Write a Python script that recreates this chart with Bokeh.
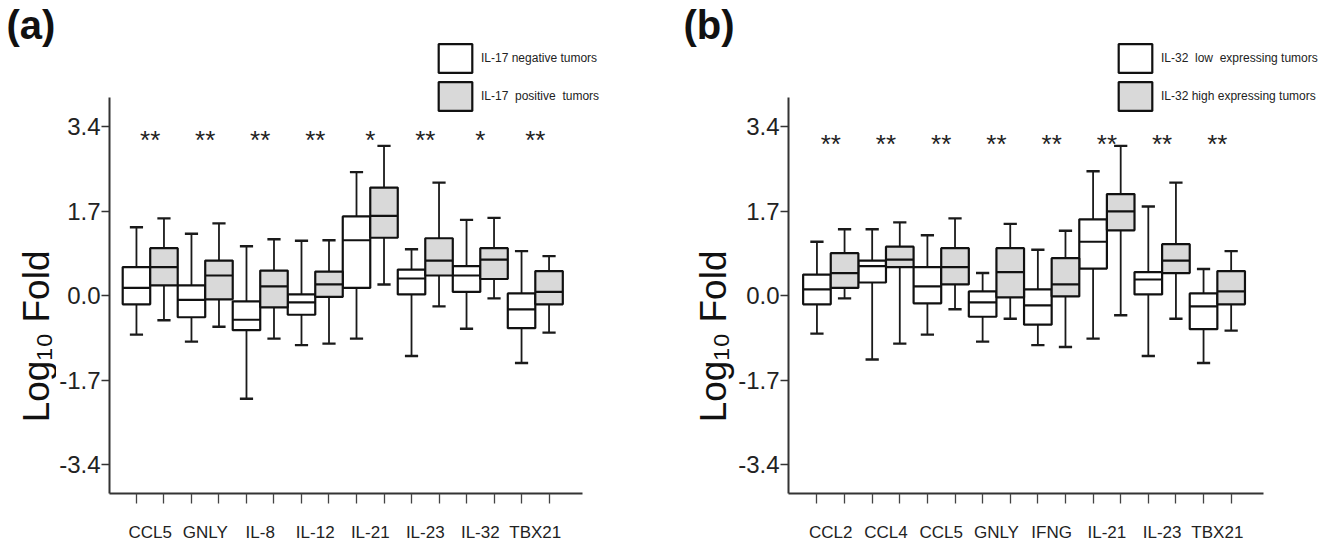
from bokeh.plotting import figure
from bokeh.layouts import row
from bokeh.models import (ColumnDataSource, FixedTicker, Legend, LegendItem, Label,
                          Range1d, NumeralTickFormatter)
from bokeh.transform import dodge
from bokeh.core.properties import value
from bokeh.embed import file_html
from bokeh.resources import INLINE
import math

# ---------------- Panel (a): IL-17 negative vs positive tumors ----------------
genes_a = ["CCL5", "GNLY", "IL-8", "IL-12", "IL-21", "IL-23", "IL-32", "TBX21"]
a_neg_low = [-0.78, -0.92, -2.07, -0.99, -0.86, -1.21, -0.66, -1.35]
a_neg_q1 = [-0.17, -0.43, -0.69, -0.38, 0.16, 0.03, 0.08, -0.65]
a_neg_med = [0.16, -0.08, -0.48, -0.13, 1.12, 0.35, 0.41, -0.27]
a_neg_q3 = [0.58, 0.21, -0.11, 0.03, 1.60, 0.53, 0.60, 0.05]
a_neg_high = [1.38, 1.25, 1.00, 1.11, 2.49, 0.94, 1.53, 0.90]

a_pos_low = [-0.49, -0.62, -0.86, -0.96, 0.23, -0.21, -0.05, -0.74]
a_pos_q1 = [0.21, -0.07, -0.23, -0.02, 1.17, 0.41, 0.34, -0.17]
a_pos_med = [0.58, 0.41, 0.19, 0.23, 1.61, 0.71, 0.73, 0.08]
a_pos_q3 = [0.96, 0.71, 0.51, 0.49, 2.18, 1.16, 0.96, 0.50]
a_pos_high = [1.56, 1.46, 1.14, 1.12, 3.02, 2.28, 1.57, 0.80]

sig_a = ["**", "**", "**", "**", "*", "**", "*", "**"]
legend_a = ["IL-17 negative tumors", "IL-17  positive  tumors"]

# ---------------- Panel (b): IL-32 low vs high expressing tumors ----------------
genes_b = ["CCL2", "CCL4", "CCL5", "GNLY", "IFNG", "IL-21", "IL-23", "TBX21"]
b_low_low = [-0.76, -1.28, -0.78, -0.92, -0.99, -0.86, -1.21, -1.35]
b_low_q1 = [-0.17, 0.27, -0.15, -0.42, -0.58, 0.55, 0.03, -0.67]
b_low_med = [0.13, 0.60, 0.19, -0.13, -0.19, 1.09, 0.33, -0.21]
b_low_q3 = [0.43, 0.71, 0.58, 0.09, 0.13, 1.54, 0.48, 0.05]
b_low_high = [1.09, 1.34, 1.22, 0.46, 0.93, 2.51, 1.80, 0.54]

b_high_low = [-0.05, -0.96, -0.27, -0.46, -1.03, -0.39, -0.46, -0.70]
b_high_q1 = [0.16, 0.58, 0.23, -0.03, -0.01, 1.32, 0.46, -0.17]
b_high_med = [0.46, 0.73, 0.58, 0.48, 0.23, 1.70, 0.71, 0.09]
b_high_q3 = [0.86, 0.99, 0.96, 0.96, 0.76, 2.05, 1.04, 0.50]
b_high_high = [1.34, 1.48, 1.56, 1.45, 1.31, 3.02, 2.28, 0.90]

sig_b = ["**"] * 8
legend_b = ["IL-32  low  expressing tumors", "IL-32 high expressing tumors"]

y_ticks = [-3.4, -1.7, 0.0, 1.7, 3.4]
y_label = "Log\u2081\u2080 Fold"

SANS = "Liberation Sans"
GRAY = "#d9d9d9"
Y_LO, Y_HI, AXIS_TOP = -3.977, 5.945, 4.0
PX_PER_UNIT = 50.29


def make_strip(width, title, title_x, label_x):
    s = figure(width=width, height=544, output_backend="svg", toolbar_location=None,
               x_range=Range1d(0, width), y_range=Range1d(Y_LO, Y_HI), title=None,
               min_border_left=0, min_border_right=0, min_border_top=0,
               min_border_bottom=45, x_axis_type=None, y_axis_type=None)
    s.outline_line_color = None
    s.add_layout(Label(x=title_x, y=Y_HI - 3 / PX_PER_UNIT, text=title,
                       text_font=SANS, text_font_size="40px", text_font_style="bold",
                       text_baseline="top", text_align="left", text_color="#111111"))
    s.add_layout(Label(x=label_x, y=3.4 - 212 / PX_PER_UNIT, text=y_label,
                       angle=math.pi / 2, text_font=SANS, text_font_size="37px",
                       text_align="center", text_baseline="middle", text_color="#111111"))
    return s


def make_panel(width, genes, g1, g2, sig, legend_labels, xr, x_end, star_y, leg_x):
    n = len(genes)
    p = figure(width=width, height=544, output_backend="svg", toolbar_location=None,
               x_range=Range1d(xr[0], x_end), y_range=Range1d(Y_LO, Y_HI), title=None,
               min_border_left=52, min_border_right=0,
               min_border_top=0, min_border_bottom=45)
    p.outline_line_color = None
    p.grid.visible = False

    box_renderers = []
    for k, (stats, fill) in enumerate([(g1, "white"), (g2, GRAY)]):
        lo, q1, med, q3, hi = stats
        xs = [2 * i + k for i in range(n)]
        src = ColumnDataSource(dict(x=xs, lo=lo, q1=q1, med=med, q3=q3, hi=hi))
        p.segment(x0="x", y0="q3", x1="x", y1="hi", source=src,
                  line_color="#1a1a1a", line_width=1.8)
        p.segment(x0="x", y0="lo", x1="x", y1="q1", source=src,
                  line_color="#1a1a1a", line_width=1.8)
        p.segment(x0=dodge("x", -0.24), y0="hi", x1=dodge("x", 0.24), y1="hi",
                  source=src, line_color="#1a1a1a", line_width=2.4)
        p.segment(x0=dodge("x", -0.24), y0="lo", x1=dodge("x", 0.24), y1="lo",
                  source=src, line_color="#1a1a1a", line_width=2.4)
        r = p.vbar(x="x", width=1.0, bottom="q1", top="q3", source=src,
                   fill_color=fill, line_color="#111111", line_width=2.2)
        box_renderers.append(r)
        p.segment(x0=dodge("x", -0.5), y0="med", x1=dodge("x", 0.5), y1="med",
                  source=src, line_color="#111111", line_width=2.2)

    star_src = ColumnDataSource(dict(x=[2 * i + 0.5 for i in range(n)],
                                     y=[star_y] * n, t=sig))
    p.text(x="x", y="y", text="t", source=star_src, text_align="center",
           text_baseline="middle", text_font=value(SANS), text_font_size="26px",
           text_color="#222222")

    # x axis
    p.xaxis.ticker = FixedTicker(ticks=[2 * i + 0.5 for i in range(n)],
                                 minor_ticks=list(range(2 * n)))
    p.xaxis.major_label_overrides = {2 * i + 0.5: g for i, g in enumerate(genes)}
    p.xaxis.bounds = xr
    p.xaxis.major_tick_out = 0
    p.xaxis.major_tick_in = 0
    p.xaxis.minor_tick_out = 10
    p.xaxis.minor_tick_in = 0
    p.xaxis.minor_tick_line_width = 1.3
    p.xaxis.minor_tick_line_color = "#444444"
    p.xaxis.axis_line_width = 2
    p.xaxis.axis_line_color = "#333333"
    p.xaxis.major_label_text_font = SANS
    p.xaxis.major_label_text_font_size = "17px"
    p.xaxis.major_label_text_color = "#222222"
    p.xaxis.major_label_standoff = 19

    # y axis
    p.yaxis.ticker = FixedTicker(ticks=y_ticks, minor_ticks=[])
    p.yaxis.formatter = NumeralTickFormatter(format="0.0")
    p.yaxis.bounds = (Y_LO, AXIS_TOP)
    p.yaxis.major_tick_out = 8
    p.yaxis.major_tick_in = 0
    p.yaxis.major_tick_line_width = 1.5
    p.yaxis.major_tick_line_color = "#333333"
    p.yaxis.axis_line_width = 2
    p.yaxis.axis_line_color = "#333333"
    p.yaxis.major_label_text_font = SANS
    p.yaxis.major_label_text_font_size = "24px"
    p.yaxis.major_label_text_color = "#222222"
    p.yaxis.major_label_standoff = 1

    leg = Legend(items=[LegendItem(label=legend_labels[0], renderers=[box_renderers[0]]),
                        LegendItem(label=legend_labels[1], renderers=[box_renderers[1]])],
                 location=(leg_x, 379), orientation="vertical",
                 glyph_width=42, glyph_height=36, label_height=36, spacing=2,
                 padding=0, margin=0, border_line_color=None, background_fill_alpha=0,
                 label_text_font=SANS, label_text_font_size="12px",
                 label_text_color="#222222", label_standoff=5)
    p.add_layout(leg)
    return p


sa = make_strip(56, "(a)", 6, 36)
pa = make_panel(610, genes_a,
                (a_neg_low, a_neg_q1, a_neg_med, a_neg_q3, a_neg_high),
                (a_pos_low, a_pos_q1, a_pos_med, a_pos_q3, a_pos_high),
                sig_a, legend_a, (-0.98, 16.22), 19.27, 3.14, 325)
sb = make_strip(69, "(b)", 17, 47)
pb = make_panel(597, genes_b,
                (b_low_low, b_low_q1, b_low_med, b_low_q3, b_low_high),
                (b_high_low, b_high_q1, b_high_med, b_high_q3, b_high_high),
                sig_b, legend_b, (-1.03, 16.18), 18.67, 3.06, 326)

layout = row(sa, pa, sb, pb)
open("out.html", "w").write(file_html(layout, INLINE))
